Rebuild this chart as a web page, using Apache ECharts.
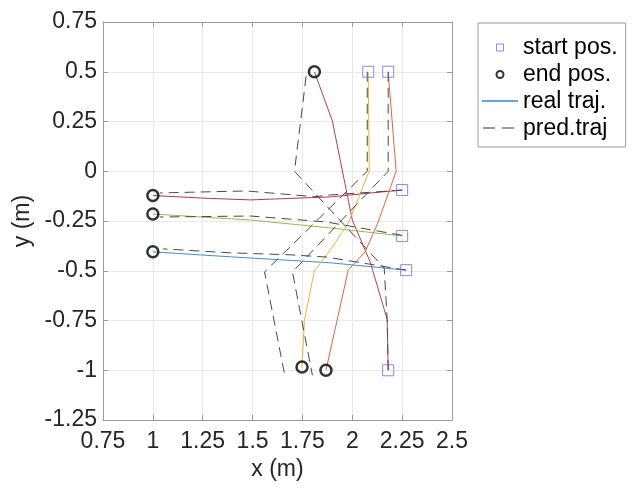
<!DOCTYPE html>
<html>
<head>
<meta charset="utf-8">
<script src="https://cdn.jsdelivr.net/npm/echarts@6/dist/echarts.min.js"></script>
<style>html,body{margin:0;padding:0;background:#fff;}#c{width:632px;height:488px;}</style>
</head>
<body>
<div id="c"></div>
<script>
// Axis ticks
const xTicks = [0.75, 1, 1.25, 1.5, 1.75, 2, 2.25, 2.5];
const yTicks = [-1.25, -1, -0.75, -0.5, -0.25, 0, 0.25, 0.5, 0.75];

// Start / end positions
const startPos = [[2.08, 0.5], [2.18, 0.5], [2.25, -0.094], [2.25, -0.325], [2.27, -0.497], [2.18, -1.0]];
const endPos = [[1.81, 0.5], [1.0, -0.122], [1.0, -0.215], [1.0, -0.405], [1.748, -0.984], [1.868, -1.0]];

// Real trajectories
const realBlue = [[1.0, -0.405], [1.39, -0.43], [1.89, -0.46], [2.27, -0.497]];
const realGreen = [[1.0, -0.215], [1.49, -0.245], [1.89, -0.285], [2.25, -0.325]];
const realRedH = [[1.0, -0.122], [1.25, -0.135], [1.49, -0.144], [1.89, -0.129], [2.25, -0.094]];
const realRedV = [[2.18, -1.0], [2.175, -0.745], [2.09, -0.456], [2.0, -0.245], [1.90, 0.253], [1.81, 0.5]];
const realYellow = [[2.08, 0.5], [2.085, 0.0], [1.98, -0.26], [1.89, -0.396], [1.81, -0.50], [1.76, -0.747], [1.748, -0.984]];
const realOrange = [[2.18, 0.5], [2.22, 0.0], [2.13, -0.255], [2.064, -0.406], [1.98, -0.496], [1.868, -1.0]];

// Predicted trajectories
const predRedV = [[2.18, -1.0], [2.175, -0.745], [2.16, -0.486], [1.71, 0.0], [1.77, 0.49]];
const predYellow = [[2.075, 0.5], [2.075, 0.0], [1.56, -0.506], [1.663, -1.034]];
const predOrange = [[2.18, 0.5], [2.18, 0.0], [1.70, -0.506], [1.80, -1.025]];
const predRedH = [[2.25, -0.095], [1.89, -0.119], [1.81, -0.128], [1.47, -0.099], [1.035, -0.109]];
const predGreen = [[2.25, -0.322], [1.87, -0.255], [1.49, -0.225], [1.035, -0.23]];
const predBlue = [[2.27, -0.497], [1.87, -0.431], [1.69, -0.42], [1.39, -0.41], [1.05, -0.39]];

const FONT = '"Liberation Sans", Arial, Helvetica, sans-serif';
const axisGray = '#9a9a9a';
const txt = '#262626';
const predColor = '#4a4a4a';
const predDash = [10, 6];

function realLine(name, data, color) {
  return { name: name, type: 'line', data: data, symbol: 'none', z: 2,
    lineStyle: { color: color, width: 1 }, itemStyle: { color: color }, silent: true };
}
function predLine(name, data) {
  return { name: name, type: 'line', data: data, symbol: 'none', z: 3,
    lineStyle: { color: predColor, width: 1, type: predDash }, itemStyle: { color: predColor }, silent: true };
}

const chart = echarts.init(document.getElementById('c'), null, { renderer: 'canvas' });
const xMin = xTicks[0], xMax = xTicks[xTicks.length - 1];
const yMin = yTicks[0], yMax = yTicks[yTicks.length - 1];
chart.setOption({
  animation: false,
  backgroundColor: '#fff',
  textStyle: { fontFamily: FONT },
  grid: { left: 103, top: 22, width: 349, height: 398, containLabel: false },
  xAxis: [{
    type: 'value', min: xMin, max: xMax, interval: 0.25,
    name: 'x (m)', nameLocation: 'middle', nameGap: 34,
    nameTextStyle: { fontSize: 23, color: txt, fontFamily: FONT },
    axisLine: { show: true, onZero: false, lineStyle: { color: axisGray } },
    axisTick: { show: true, inside: true, length: 5, lineStyle: { color: axisGray } },
    axisLabel: { fontSize: 23, color: txt, margin: 10, fontFamily: FONT, showMinLabel: true, showMaxLabel: true },
    splitLine: { show: true, lineStyle: { color: '#e9e9e9' } }
  }, {
    type: 'value', min: xMin, max: xMax, interval: 0.25, position: 'top',
    axisLine: { show: true, onZero: false, lineStyle: { color: axisGray } },
    axisTick: { show: true, inside: true, length: 5, lineStyle: { color: axisGray } },
    axisLabel: { show: false }, splitLine: { show: false }
  }],
  yAxis: [{
    type: 'value', min: yMin, max: yMax, interval: 0.25,
    name: 'y (m)', nameLocation: 'middle', nameGap: 50,
    nameTextStyle: { fontSize: 23, color: txt, fontFamily: FONT },
    axisLine: { show: true, onZero: false, lineStyle: { color: axisGray } },
    axisTick: { show: true, inside: true, length: 5, lineStyle: { color: axisGray } },
    axisLabel: { fontSize: 23, color: txt, margin: 6, fontFamily: FONT, showMinLabel: true, showMaxLabel: true },
    splitLine: { show: true, lineStyle: { color: '#e9e9e9' } }
  }, {
    type: 'value', min: yMin, max: yMax, interval: 0.25, position: 'right',
    axisLine: { show: true, onZero: false, lineStyle: { color: axisGray } },
    axisTick: { show: true, inside: true, length: 5, lineStyle: { color: axisGray } },
    axisLabel: { show: false }, splitLine: { show: false }
  }],
  legend: {
    orient: 'vertical', left: 478, top: 23,
    itemWidth: 36, itemHeight: 7, itemGap: 4,
    padding: [13, 8, 7, 4],
    borderColor: '#9a9a9a', borderWidth: 1,
    textStyle: { fontSize: 23, color: '#000', fontFamily: FONT },
    selectedMode: false,
    data: [
      { name: 'start pos.', icon: 'path://M0,0H10V10H0Z', itemStyle: { color: 'rgba(0,0,0,0)', borderColor: '#6b6bf6', borderWidth: 1 } },
      { name: 'end pos.', icon: 'circle', itemStyle: { color: 'rgba(0,0,0,0)', borderColor: '#000', borderWidth: 2 } },
      { name: 'real traj.', icon: 'none' },
      { name: 'pred.traj', icon: 'none' }
    ]
  },
  graphic: [
    { type: 'line', z: 100, shape: { x1: 482, y1: 101, x2: 518, y2: 101 }, style: { stroke: '#2f86d6', lineWidth: 1.3 } },
    { type: 'line', z: 100, shape: { x1: 483, y1: 128, x2: 518, y2: 128 }, style: { stroke: '#7a7a7a', lineWidth: 1.3, lineDash: [12, 7] } }
  ],
  series: [
    realLine('real traj.', realBlue, '#3f8fd2'),
    realLine('real 2', realGreen, '#8cc050'),
    realLine('real 3', realRedH, '#b0384f'),
    realLine('real 4', realRedV, '#bc3d56'),
    realLine('real 5', realYellow, '#f0b53a'),
    realLine('real 6', realOrange, '#e3683a'),
    predLine('pred.traj', predRedV), predLine('pred 2', predYellow), predLine('pred 3', predOrange),
    predLine('pred 4', predRedH), predLine('pred 5', predGreen), predLine('pred 6', predBlue),
    { name: 'start pos.', type: 'scatter', data: startPos, symbol: 'rect', symbolSize: 11, z: 5,
      itemStyle: { color: 'rgba(0,0,0,0)', borderColor: '#6b6bf6', borderWidth: 1 } },
    { name: 'end pos.', type: 'scatter', data: endPos, symbol: 'circle', symbolSize: 11, z: 6,
      itemStyle: { color: 'rgba(0,0,0,0)', borderColor: '#000', borderWidth: 2.5 } }
  ]
});
</script>
</body>
</html>
